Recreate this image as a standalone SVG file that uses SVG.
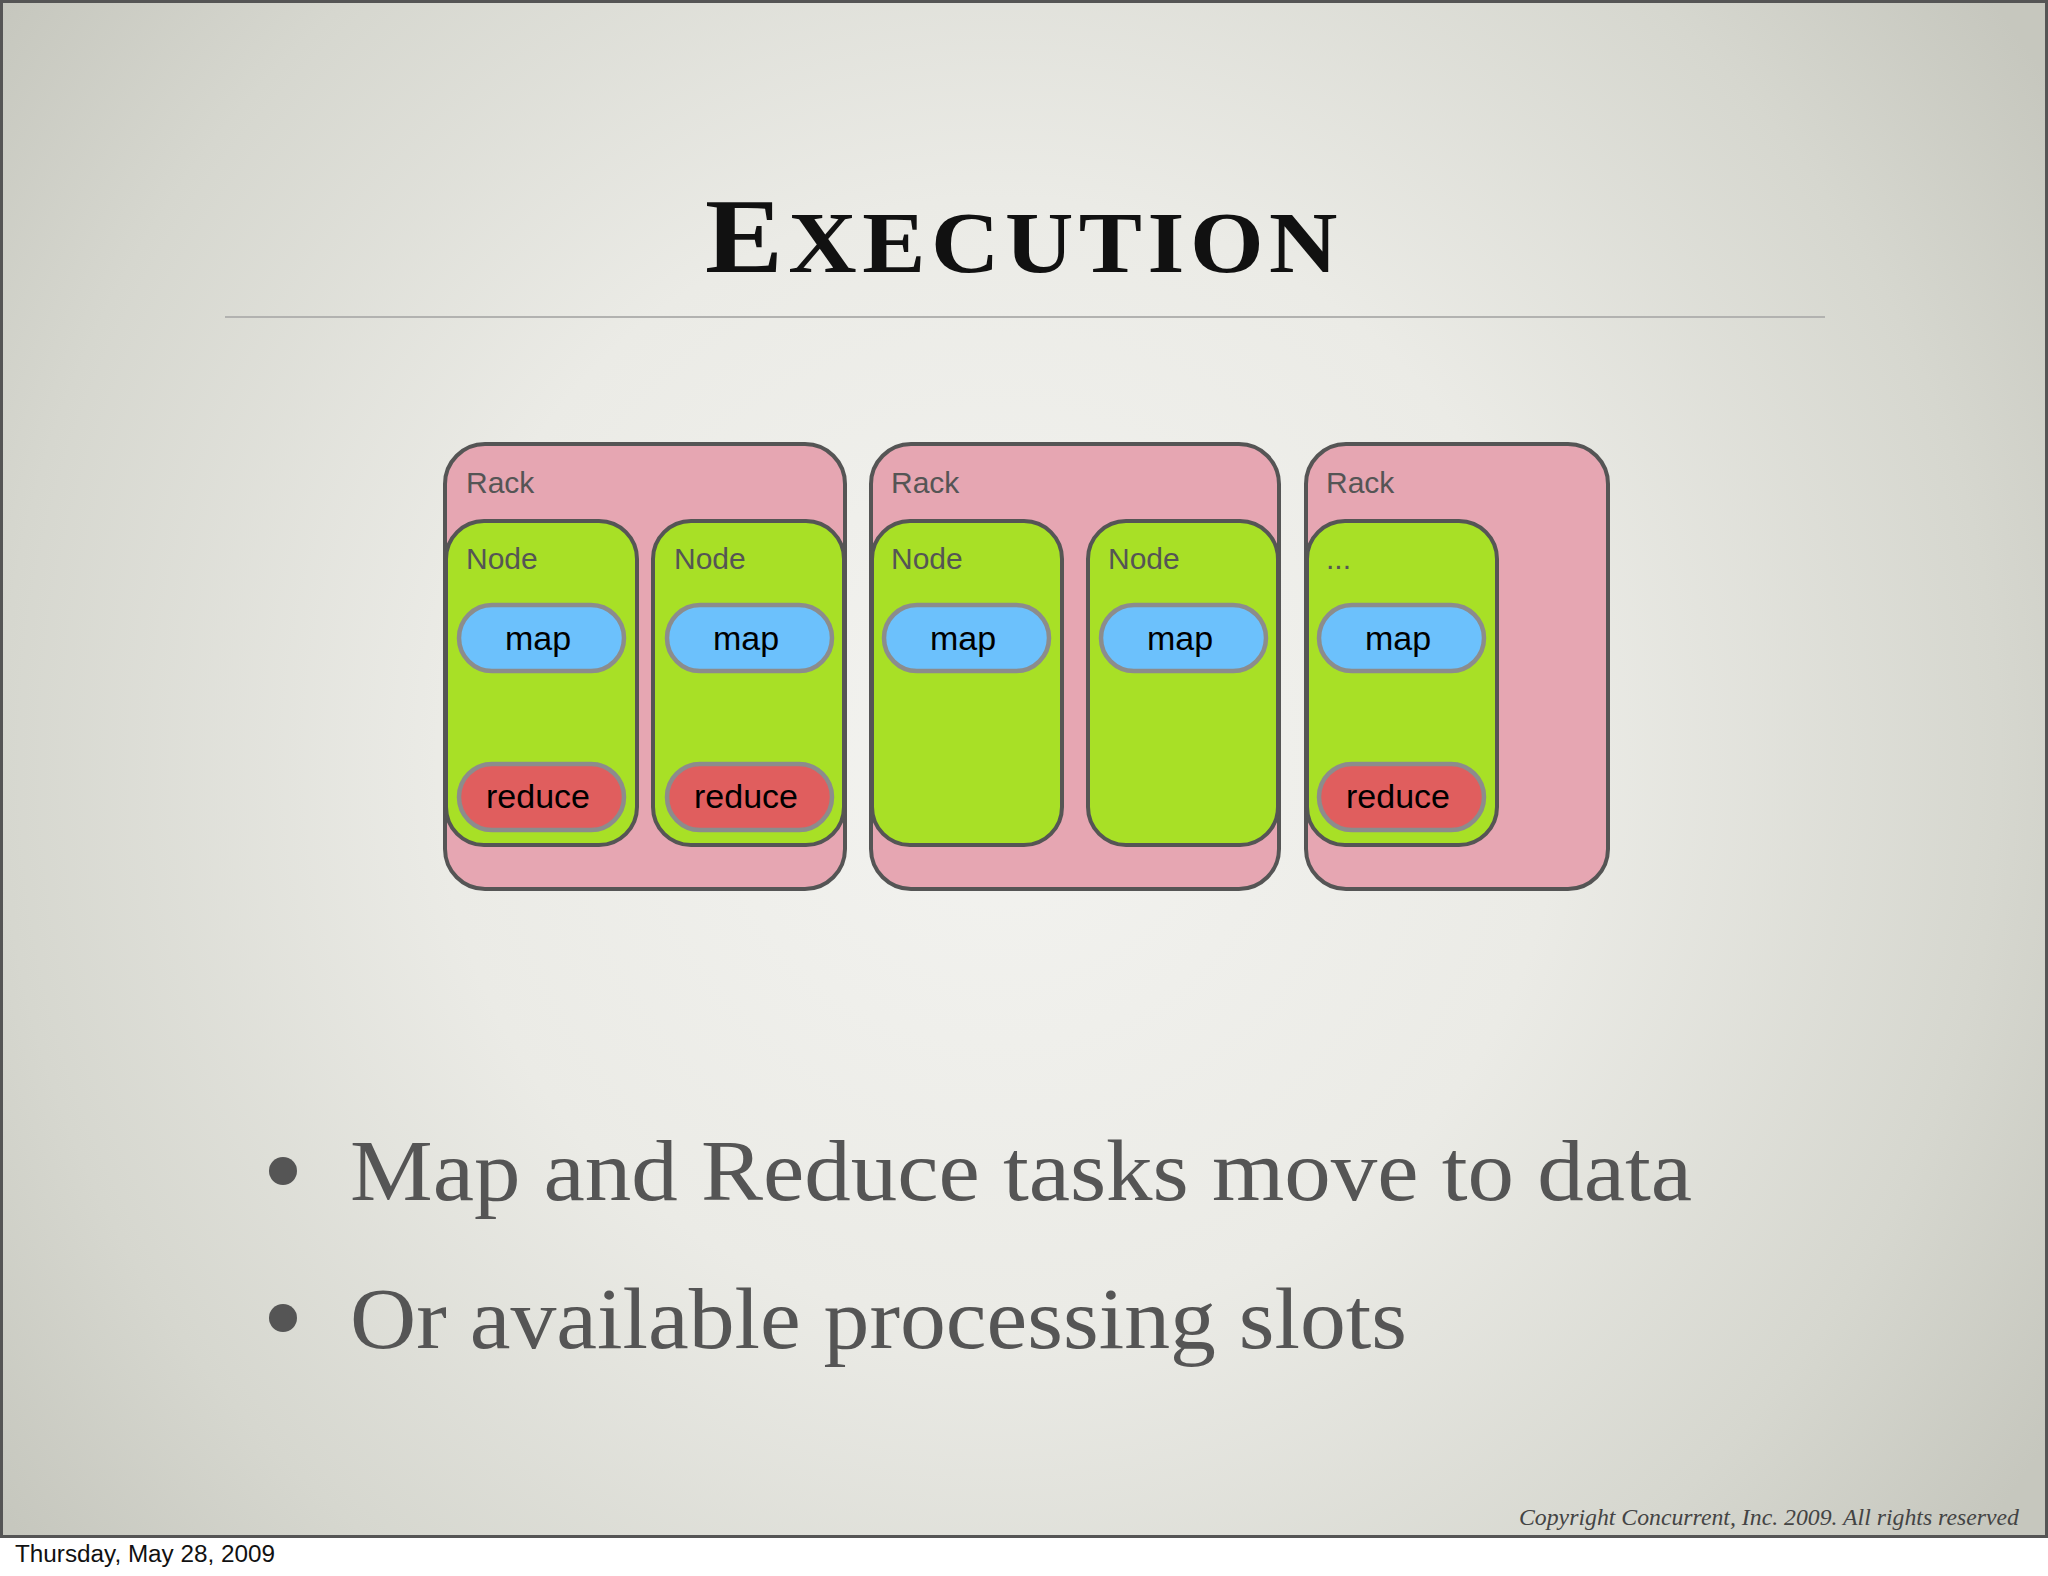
<svg xmlns="http://www.w3.org/2000/svg" width="2048" height="1576" viewBox="0 0 2048 1576">
<defs>
<radialGradient id="bg" cx="1000" cy="760" r="1250" gradientUnits="userSpaceOnUse">
<stop offset="0" stop-color="#f3f3f0"/>
<stop offset="0.45" stop-color="#ebebe6"/>
<stop offset="0.8" stop-color="#d6d7cf"/>
<stop offset="1" stop-color="#c6c7be"/>
</radialGradient>
<style>
.rack{fill:#e6a6b2;stroke:#555;stroke-width:4}
.node{fill:#a8e026;stroke:#555;stroke-width:4}
.map{fill:#6cc1fc;stroke:#8c8c8c;stroke-width:4.5}
.reduce{fill:#e05e5e;stroke:#8c8c8c;stroke-width:4.5}
.lbl{font-family:"Liberation Sans",Arial,sans-serif;font-size:30px;fill:#555}
.task{font-family:"Liberation Sans",Arial,sans-serif;font-size:34px;fill:#000;text-anchor:middle}
.bullet{font-family:"Liberation Serif","Times New Roman",serif;font-size:86px;fill:#555}
</style>
</defs>
<rect x="0" y="0" width="2048" height="1576" fill="#ffffff"/>
<rect x="1.5" y="1.5" width="2045" height="1535" fill="url(#bg)" stroke="#555" stroke-width="3"/>

<text x="1024" y="272" text-anchor="middle" font-family="'Liberation Serif','Times New Roman',serif" font-weight="bold" fill="#111" letter-spacing="5" textLength="638" lengthAdjust="spacingAndGlyphs"><tspan font-size="106">E</tspan><tspan font-size="86">XECUTION</tspan></text>
<line x1="225" y1="317" x2="1825" y2="317" stroke="#b2b2b0" stroke-width="2"/>

<g id="rack1">
<rect class="rack" x="445" y="444" width="400" height="445" rx="40"/>
<text class="lbl" x="466" y="493">Rack</text>
<g id="node1">
<rect class="node" x="446" y="521" width="191" height="324" rx="38"/>
<text class="lbl" x="466" y="569">Node</text>
<rect class="map" x="459" y="605" width="165" height="66" rx="33"/>
<text class="task" x="538" y="650">map</text>
<rect class="reduce" x="459" y="764" width="165" height="66" rx="33"/>
<text class="task" x="538" y="808">reduce</text>
</g>
<g id="node2">
<rect class="node" x="653" y="521" width="191" height="324" rx="38"/>
<text class="lbl" x="674" y="569">Node</text>
<rect class="map" x="667" y="605" width="165" height="66" rx="33"/>
<text class="task" x="746" y="650">map</text>
<rect class="reduce" x="667" y="764" width="165" height="66" rx="33"/>
<text class="task" x="746" y="808">reduce</text>
</g>
</g>

<g id="rack2">
<rect class="rack" x="871" y="444" width="408" height="445" rx="40"/>
<text class="lbl" x="891" y="493">Rack</text>
<g id="node3">
<rect class="node" x="872" y="521" width="190" height="324" rx="38"/>
<text class="lbl" x="891" y="569">Node</text>
<rect class="map" x="884" y="605" width="165" height="66" rx="33"/>
<text class="task" x="963" y="650">map</text>
</g>
<g id="node4">
<rect class="node" x="1088" y="521" width="190" height="324" rx="38"/>
<text class="lbl" x="1108" y="569">Node</text>
<rect class="map" x="1101" y="605" width="165" height="66" rx="33"/>
<text class="task" x="1180" y="650">map</text>
</g>
</g>

<g id="rack3">
<rect class="rack" x="1306" y="444" width="302" height="445" rx="40"/>
<text class="lbl" x="1326" y="493">Rack</text>
<g id="node5">
<rect class="node" x="1307" y="521" width="190" height="324" rx="38"/>
<text class="lbl" x="1326" y="569">...</text>
<rect class="map" x="1319" y="605" width="165" height="66" rx="33"/>
<text class="task" x="1398" y="650">map</text>
<rect class="reduce" x="1319" y="764" width="165" height="66" rx="33"/>
<text class="task" x="1398" y="808">reduce</text>
</g>
</g>

<g id="connectors"/>

<circle cx="283" cy="1171" r="14" fill="#555"/>
<text class="bullet" x="350" y="1200" textLength="1342" lengthAdjust="spacingAndGlyphs">Map and Reduce tasks move to data</text>
<circle cx="283" cy="1318" r="14" fill="#555"/>
<text class="bullet" x="350" y="1348" textLength="1057" lengthAdjust="spacingAndGlyphs">Or available processing slots</text>

<text x="1519" y="1525" font-family="'Liberation Serif','Times New Roman',serif" font-style="italic" font-size="24" fill="#444" textLength="500" lengthAdjust="spacingAndGlyphs">Copyright Concurrent, Inc. 2009. All rights reserved</text>
<text x="15" y="1562" font-family="'Liberation Sans',Arial,sans-serif" font-size="23" fill="#111" textLength="260" lengthAdjust="spacingAndGlyphs">Thursday, May 28, 2009</text>
</svg>
